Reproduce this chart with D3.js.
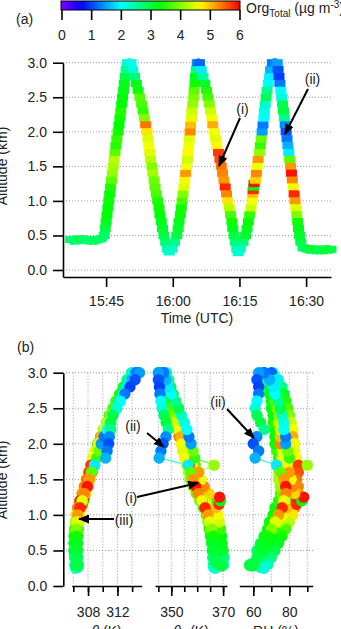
<!DOCTYPE html>
<html>
<head>
<meta charset="utf-8">
<script src="https://cdn.jsdelivr.net/npm/d3@7"></script>
<style>
body { margin: 0; background: #fff; }
svg { font-family: "Liberation Sans", Arial, sans-serif; font-size: 14px; }
.grid line { stroke: #999; stroke-width: 1; stroke-dasharray: 1,2; }
.axis path, .axis line { stroke: #000; stroke-width: 1.6; }
.axis text { font-size: 14px; fill: #222; }
</style>
</head>
<body>
<svg id="chart" width="341" height="629"></svg>
<script>
// rows: [minutes after 15:00 UTC, altitude (km), OrgTotal (ug m-3), theta (K), thetaE (K), RH (%)]
var level0 = [
[37.0,0.44,2.8,306.3,368.0,63],[38.0,0.42,2.7,306.2,367.6,64],[39.0,0.45,2.9,306.3,367.2,65],
[40.0,0.43,2.8,306.4,368.4,63],[41.0,0.44,2.7,306.2,367.9,64],[42.0,0.42,2.8,306.3,367.4,65],
[43.0,0.44,2.9,306.3,368.1,64],[43.9,0.45,2.8,306.4,367.7,65]
]
var leg1 = [
[44.6,0.5,2.8,306.1,369.5,62],[44.8,0.6,3.0,306.1,369.0,64],[45.0,0.7,3.2,306.2,368.6,66],
[45.2,0.8,3.3,306.2,368.4,68],[45.4,0.9,3.3,306.3,367.6,69],[45.6,1.0,3.4,306.4,367.0,71],
[45.8,1.1,3.3,306.6,366.2,72],[46.0,1.2,3.5,306.9,364.4,74],[46.2,1.3,3.8,307.2,362.8,75],
[46.4,1.4,4.1,307.5,361.9,75],[46.6,1.5,4.2,307.8,360.6,74],[46.8,1.6,4.3,308.1,360.1,74],
[47.0,1.7,3.8,308.4,359.2,73],[47.2,1.8,3.5,308.7,358.6,74],[47.4,1.9,3.6,309.0,357.7,73],
[47.7,2.0,3.4,309.3,357.1,72],[47.9,2.1,3.3,309.7,356.6,72],[48.1,2.2,3.4,310.1,355.7,72],
[48.3,2.3,3.5,310.5,354.8,71],[48.5,2.4,3.3,310.9,353.6,71],[48.7,2.5,3.3,311.4,352.8,70],
[48.9,2.6,3.2,311.8,351.6,70],[49.1,2.7,3.2,312.3,350.7,69],[49.3,2.8,3.0,312.8,349.8,68],
[49.5,2.9,2.6,313.3,349.0,67],[49.8,3.0,2.3,313.9,348.2,65]
]
var leg2 = [
[50.6,3.0,2.1,314.4,345.0,71],[51.0,2.9,2.2,313.8,345.9,74],[51.4,2.8,2.7,313.2,346.4,76],
[51.8,2.7,3.2,312.7,347.4,77],[52.2,2.6,3.4,312.2,348.3,78],[52.6,2.5,3.8,311.8,349.2,79],
[53.0,2.4,3.7,311.3,350.4,80],[53.3,2.3,3.6,310.9,351.2,80],[53.6,2.2,4.0,310.5,352.4,81],
[53.9,2.1,5.4,310.1,353.0,81],[54.2,2.0,4.8,309.7,353.8,82],[54.4,1.9,4.5,309.4,354.3,82],
[54.6,1.8,4.6,309.1,355.1,83],[54.8,1.7,4.5,308.8,355.9,82],[55.0,1.6,4.3,308.5,356.6,83],
[55.3,1.5,4.0,308.2,357.3,84],[55.5,1.4,4.2,307.9,358.4,84],[55.8,1.3,3.9,307.6,359.6,84],
[56.0,1.2,3.8,307.3,361.0,83],[56.3,1.1,3.7,307.0,362.4,82],[56.6,1.0,3.5,306.8,363.5,80],
[56.9,0.9,3.4,306.7,364.2,79],[57.1,0.8,3.3,306.6,364.6,77],[57.4,0.7,3.2,306.5,365.1,75],
[57.7,0.6,3.1,306.5,365.6,73],[58.0,0.5,3.0,306.5,365.8,71],[58.4,0.4,2.7,306.5,366.0,68],
[58.8,0.3,2.5,306.6,366.2,66],[59.2,0.26,2.3,306.6,366.4,64]
]
var leg3 = [
[59.8,0.3,2.3,306.3,368.0,61],[60.4,0.4,2.6,306.2,368.5,63],[60.9,0.5,3.0,306.2,368.0,65],
[61.2,0.6,3.1,306.2,367.6,67],[61.4,0.7,3.2,306.2,367.8,69],[61.7,0.8,3.4,306.3,367.0,71],
[61.9,0.9,3.4,306.4,366.7,72],[62.1,1.0,3.7,306.5,366.0,74],[62.3,1.1,4.0,306.7,364.6,76],
[62.5,1.2,4.5,307.0,363.4,77],[62.7,1.3,4.7,307.3,361.9,78],[62.9,1.4,5.2,307.6,360.5,78],
[63.1,1.5,4.6,307.9,359.5,78],[63.3,1.6,4.4,308.2,358.9,77],[63.4,1.7,4.7,308.5,358.1,76],
[63.6,1.8,4.6,308.8,357.2,76],[63.7,1.9,4.5,309.1,356.7,76],[63.9,2.0,5.3,309.4,356.0,75],
[64.0,2.1,5.0,309.8,355.2,75],[64.2,2.2,4.5,310.2,354.6,75],[64.3,2.3,4.4,310.6,353.7,74],
[64.5,2.4,4.1,311.0,352.6,74],[64.7,2.5,4.0,311.5,351.5,73],[64.8,2.6,3.8,311.9,350.7,72],
[65.0,2.7,3.4,312.4,349.5,71],[65.1,2.8,3.2,312.9,348.7,70],[65.3,2.9,2.6,313.5,347.9,68],
[65.5,3.0,1.4,314.5,347.1,66]
]
var leg4 = [
[66.0,3.0,1.2,314.7,345.4,70],[66.4,2.9,1.9,313.9,346.2,73],[66.8,2.8,2.5,313.2,346.9,75],
[67.2,2.7,3.1,312.7,347.6,77],[67.6,2.6,3.5,312.1,348.6,78],[67.9,2.5,3.7,311.6,349.7,79],
[68.2,2.4,4.0,311.1,350.9,80],[68.5,2.3,4.4,310.6,351.7,81],[68.8,2.2,4.6,310.2,352.8,82],
[69.0,2.1,5.1,309.8,353.6,82],[69.3,2.0,4.6,309.4,354.1,83],[69.6,1.9,4.5,309.0,354.9,83],
[69.9,1.8,4.7,308.7,355.6,84],[70.3,1.7,5.7,308.4,356.9,85],[70.6,1.6,5.6,308.1,357.8,85],
[70.9,1.5,5.4,307.8,358.9,84],[71.2,1.4,5.3,307.5,359.8,85],[71.5,1.3,5.2,307.2,360.9,85],
[71.8,1.2,5.8,306.9,361.9,84],[72.1,1.1,5.3,306.6,363.0,83],[72.4,1.0,4.8,306.4,364.0,82],
[72.7,0.9,4.3,306.3,364.5,80],[73.0,0.8,3.7,306.2,364.9,78],[73.3,0.7,3.4,306.1,365.3,76],
[73.5,0.6,3.2,306.1,365.7,74],[73.8,0.5,3.0,306.1,366.0,72],[74.1,0.4,2.7,306.2,366.2,70],
[74.4,0.3,2.4,306.2,366.4,68],[74.7,0.25,2.2,306.3,366.9,66]
]
var leg5 = [
[75.2,0.3,2.3,306.7,370.2,62],[75.8,0.4,2.7,306.6,370.4,64],[76.4,0.5,3.1,306.6,370.0,66],
[76.7,0.6,3.2,306.6,369.6,68],[77.0,0.7,3.3,306.6,369.4,70],[77.3,0.8,3.6,306.7,369.0,72],
[77.6,0.9,4.4,306.8,368.5,74],[77.9,1.0,4.6,306.9,368.0,76],[78.0,1.1,5.0,307.1,367.2,79],
[78.1,1.15,5.8,307.2,368.4,84],[78.2,1.2,3.3,307.4,369.0,87],[78.3,1.25,5.9,307.5,368.6,88],
[78.6,1.3,4.9,307.7,364.5,83],[78.8,1.4,5.3,308.0,362.6,82],[79.0,1.5,4.6,308.3,361.5,81],
[79.2,1.6,5.2,308.6,360.6,80],[79.5,1.7,4.1,308.9,366.5,90],[79.7,1.8,3.6,309.2,359.0,80],
[79.9,1.9,3.9,309.5,358.4,79],[80.1,2.0,1.5,309.8,357.6,78],[80.3,2.1,1.3,310.2,356.8,78],
[80.5,2.2,2.0,310.6,356.0,77],[80.6,2.3,2.1,311.0,355.0,77],[80.8,2.4,2.3,311.4,353.9,76],
[81.0,2.5,2.9,311.9,352.8,75],[81.2,2.6,2.6,312.3,351.5,74],[81.5,2.7,2.0,312.8,350.0,72],
[81.8,2.8,1.9,313.4,349.0,71],[82.0,2.9,1.6,314.0,347.8,69],[82.4,3.0,1.3,314.8,347.0,66]
]
var leg6 = [
[83.5,3.0,1.5,315.0,345.0,63],[83.7,2.9,1.1,314.4,345.0,62],[83.9,2.8,1.0,313.7,345.4,63],
[84.1,2.7,1.3,313.0,345.6,63],[84.3,2.6,2.0,312.4,346.0,62],[84.5,2.5,2.2,311.9,346.4,61],
[84.7,2.4,2.9,311.4,347.2,62],[84.9,2.3,3.0,311.1,348.0,64],[85.1,2.2,2.6,311.1,348.8,66],
[85.3,2.1,1.4,310.9,347.9,62],[85.5,2.0,1.1,310.8,346.8,60],[85.7,1.9,1.3,310.6,346.0,63],
[85.9,1.8,1.6,310.4,345.3,61],[86.1,1.7,1.9,308.9,356.5,73],[86.3,1.6,3.8,308.5,357.4,75],
[86.5,1.5,5.2,308.2,358.4,77],[86.7,1.4,5.9,307.9,359.4,78],[86.9,1.3,5.3,307.5,360.4,78],
[87.1,1.2,4.6,307.2,361.8,77],[87.3,1.1,5.8,306.9,363.0,76],[87.5,1.0,5.2,306.6,364.2,74],
[87.7,0.9,4.5,306.5,364.9,72],[87.9,0.8,4.0,306.4,365.5,70],[88.1,0.7,3.4,306.4,366.0,68],
[88.3,0.6,3.2,306.4,366.4,66],[88.5,0.5,3.1,306.4,366.6,64],[88.8,0.4,3.0,306.5,366.8,62],
[89.3,0.32,2.8,306.5,367.1,60]
]
var level7 = [
[90.0,0.31,2.9,306.5,368.4,59],[91.0,0.29,3.0,306.4,369.0,58],[92.0,0.30,3.1,306.5,368.2,60],
[93.0,0.28,2.9,306.6,369.4,59],[94.0,0.30,3.0,306.5,368.8,58],[95.0,0.29,3.1,306.4,369.2,60],
[95.6,0.30,3.0,306.5,368.6,59]
]

var orgTicks = [0, 1, 2, 3, 4, 5, 6]
var timeTicks = ["15:45", "16:00", "16:15", "16:30"]
var altTicks = [0, 0.5, 1, 1.5, 2, 2.5, 3]
var thetaTicks = [306, 308, 310, 312, 314]
var thetaMajor = [308, 312]
var thetaETicks = [345, 350, 355, 360, 365, 370]
var thetaEMajor = [350, 370]
var rhTicks = [60, 70, 80, 90]
var rhMajor = [60, 80]

var flight = [].concat(level0, leg1, leg2, leg3, leg4, leg5, leg6, level7)

var svg = d3.select("#chart")

// Igor-like rainbow, purple (0) to red (6)
var color = d3.scaleSequential(function(t) { return d3.hsl(270 * (1 - t), 1, 0.5) + "" })
  .domain([0, 6]).clamp(true)

var parseTime = d3.utcParse("%H:%M")
var clock = function(m) { return new Date(Date.UTC(1900, 0, 1, 15, 0) + m * 60000) }

// ---- colour bar ----
var cx = d3.scaleLinear().domain([0, 6]).range([61.5, 239.5])
var grad = svg.append("defs").append("linearGradient").attr("id", "rainbow")
d3.range(0, 6.01, 0.25).forEach(function(v) {
  grad.append("stop").attr("offset", (v / 6 * 100) + "%").attr("stop-color", color(v))
})
svg.append("rect").attr("x", 61).attr("y", 1).attr("width", 179).attr("height", 9)
  .attr("fill", "url(#rainbow)").attr("stroke", "#000").attr("stroke-width", 1)
svg.append("g").attr("class", "axis").attr("transform", "translate(0,10)")
  .call(d3.axisBottom(cx).tickValues(orgTicks).tickFormat(d3.format("d")).tickSize(10).tickPadding(10).tickSizeOuter(0))
  .call(g => g.select(".domain").remove())
var lab = svg.append("text").attr("x", 246).attr("y", 13).attr("fill", "#222")
lab.append("tspan").text("Org")
lab.append("tspan").attr("font-size", 10).attr("dy", 4).text("Total")
lab.append("tspan").attr("dy", -4).text(" (µg m")
lab.append("tspan").attr("font-size", 10).attr("dy", -5).text("-3")
lab.append("tspan").attr("dy", 5).text(")")

// ---- panel (a) ----
var x = d3.scaleUtc().domain([clock(35.3), clock(95.6)]).range([63, 331])
var y = d3.scaleLinear().domain([-0.1, 3]).range([276.9, 62.7])

svg.append("g").attr("class", "grid").selectAll("line").data(altTicks).enter().append("line")
  .attr("x1", 63).attr("x2", 331).attr("y1", d => y(d)).attr("y2", d => y(d))

// thick flight track, then short horizontal bars on each sample
var track = svg.append("g")
track.selectAll("line").data(d3.pairs(flight)).enter().append("line")
  .attr("x1", d => x(clock(d[0][0]))).attr("y1", d => y(d[0][1]))
  .attr("x2", d => x(clock(d[1][0]))).attr("y2", d => y(d[1][1]))
  .attr("stroke", d => color(d[1][2]))
  .attr("stroke-width", 9)
track.selectAll("rect").data(flight).enter().append("rect")
  .attr("x", d => x(clock(d[0])) - 5.5).attr("y", d => y(d[1]) - 3.5)
  .attr("width", 11).attr("height", 7)
  .attr("fill", d => color(d[2]))

svg.append("g").attr("class", "axis").attr("transform", "translate(63,0)")
  .call(d3.axisLeft(y).tickValues(altTicks).tickFormat(d3.format(".1f")).tickSize(10).tickPadding(6).tickSizeOuter(0))
svg.append("g").attr("class", "axis").attr("transform", "translate(0,277)")
  .call(d3.axisBottom(x).tickValues(timeTicks.map(parseTime)).tickFormat(d3.utcFormat("%H:%M")).tickSize(10).tickPadding(9).tickSizeOuter(0))

svg.append("text").attr("x", 197).attr("y", 323).attr("text-anchor", "middle").attr("fill", "#222").text("Time (UTC)")
svg.append("text").attr("transform", "translate(6.5,166) rotate(-90)").attr("text-anchor", "middle").attr("fill", "#222").text("Altitude (km)")
svg.append("text").attr("x", 16).attr("y", 24).attr("fill", "#222").text("(a)")

// ---- panel (b) ----
var yb = d3.scaleLinear().domain([0, 3]).range([586, 372.7])

var subplots = [
  {col: 3, scale: d3.scaleLinear().domain([305.78, 315.3]).range([71.7, 141.7]), ticks: thetaTicks, major: thetaMajor, title: "theta"},
  {col: 4, scale: d3.scaleLinear().domain([343.7, 371.5]).range([155, 227]), ticks: thetaETicks, major: thetaEMajor, title: "thetaE"},
  {col: 5, scale: d3.scaleLinear().domain([52.2, 93]).range([239.3, 312.7]), ticks: rhTicks, major: rhMajor, title: "rh"}
]

svg.append("g").attr("class", "grid").selectAll("line").data(altTicks.slice(1)).enter().append("line")
  .attr("x1", 63).attr("x2", 313).attr("y1", d => yb(d)).attr("y2", d => yb(d))

subplots.forEach(function(p) {
  var sx = p.scale
  svg.append("g").attr("class", "grid").selectAll("line").data(p.ticks).enter().append("line")
    .attr("x1", d => sx(d)).attr("x2", d => sx(d)).attr("y1", yb(3)).attr("y2", yb(0))

  var g = svg.append("g")
  g.selectAll("line").data(d3.pairs(flight)).enter().append("line")
    .attr("x1", d => sx(d[0][p.col])).attr("y1", d => yb(d[0][1]))
    .attr("x2", d => sx(d[1][p.col])).attr("y2", d => yb(d[1][1]))
    .attr("stroke", d => color(d[1][2])).attr("stroke-width", 1)
  g.selectAll("circle").data(flight).enter().append("circle")
    .attr("cx", d => sx(d[p.col])).attr("cy", d => yb(d[1])).attr("r", 5.7)
    .attr("fill", d => color(d[2]))

  svg.append("g").attr("class", "axis").attr("transform", "translate(0,586)")
    .call(d3.axisBottom(sx).tickValues(p.ticks).tickFormat("").tickSize(6).tickSizeOuter(0))
  svg.append("g").attr("class", "axis").attr("transform", "translate(0,586)")
    .call(d3.axisBottom(sx).tickValues(p.major).tickFormat(d3.format("d")).tickSize(10).tickPadding(11).tickSizeOuter(0))
    .call(g => g.select(".domain").remove())

  var mid = (sx.range()[0] + sx.range()[1]) / 2
  var t = svg.append("text").attr("x", mid).attr("y", 636).attr("text-anchor", "middle").attr("fill", "#222")
  if (p.title == "theta") {
    t.append("tspan").attr("font-style", "italic").text("θ")
    t.append("tspan").text(" (K)")
  } else if (p.title == "thetaE") {
    t.append("tspan").attr("font-style", "italic").text("θ")
    t.append("tspan").attr("font-size", 10).attr("dy", 3).text("e")
    t.append("tspan").attr("dy", -3).text(" (K)")
  } else {
    t.text("RH (%)")
  }
})

svg.append("g").attr("class", "axis").attr("transform", "translate(63.3,0)")
  .call(d3.axisLeft(yb).tickValues(altTicks).tickFormat(d3.format(".1f")).tickSize(10).tickPadding(6).tickSizeOuter(0))

svg.append("text").attr("transform", "translate(6.5,480) rotate(-90)").attr("text-anchor", "middle").attr("fill", "#222").text("Altitude (km)")
svg.append("text").attr("x", 17).attr("y", 352).attr("fill", "#222").text("(b)")

// ---- annotations ----
svg.select("defs").append("marker").attr("id", "head")
  .attr("markerUnits", "userSpaceOnUse").attr("markerWidth", 11).attr("markerHeight", 9)
  .attr("refX", 10).attr("refY", 4.5).attr("orient", "auto")
  .append("path").attr("d", "M0,0 L11,4.5 L0,9 Z").attr("fill", "#000")

var notes = [
  {label: "(i)", tx: 242.5, ty: 114, x1: 240, y1: 118, x2: 219, y2: 166},
  {label: "(ii)", tx: 312.5, ty: 84, x1: 308, y1: 89, x2: 285, y2: 134},
  {label: "(ii)", tx: 133, ty: 431, x1: 147, y1: 433, x2: 164, y2: 447},
  {label: "(i)", tx: 131, ty: 503, x1: 137, y1: 497, x2: 198, y2: 483},
  {label: "(iii)", tx: 124, ty: 525, x1: 114, y1: 519, x2: 79, y2: 519},
  {label: "(ii)", tx: 218, ty: 407, x1: 227, y1: 409, x2: 254, y2: 438}
]
svg.append("g").selectAll("line").data(notes).enter().append("line")
  .attr("x1", d => d.x1).attr("y1", d => d.y1).attr("x2", d => d.x2).attr("y2", d => d.y2)
  .attr("stroke", "#000").attr("stroke-width", 2).attr("marker-end", "url(#head)")
svg.append("g").selectAll("text").data(notes).enter().append("text")
  .attr("x", d => d.tx).attr("y", d => d.ty).attr("text-anchor", "middle").attr("fill", "#222")
  .text(d => d.label)
</script>
</body>
</html>
